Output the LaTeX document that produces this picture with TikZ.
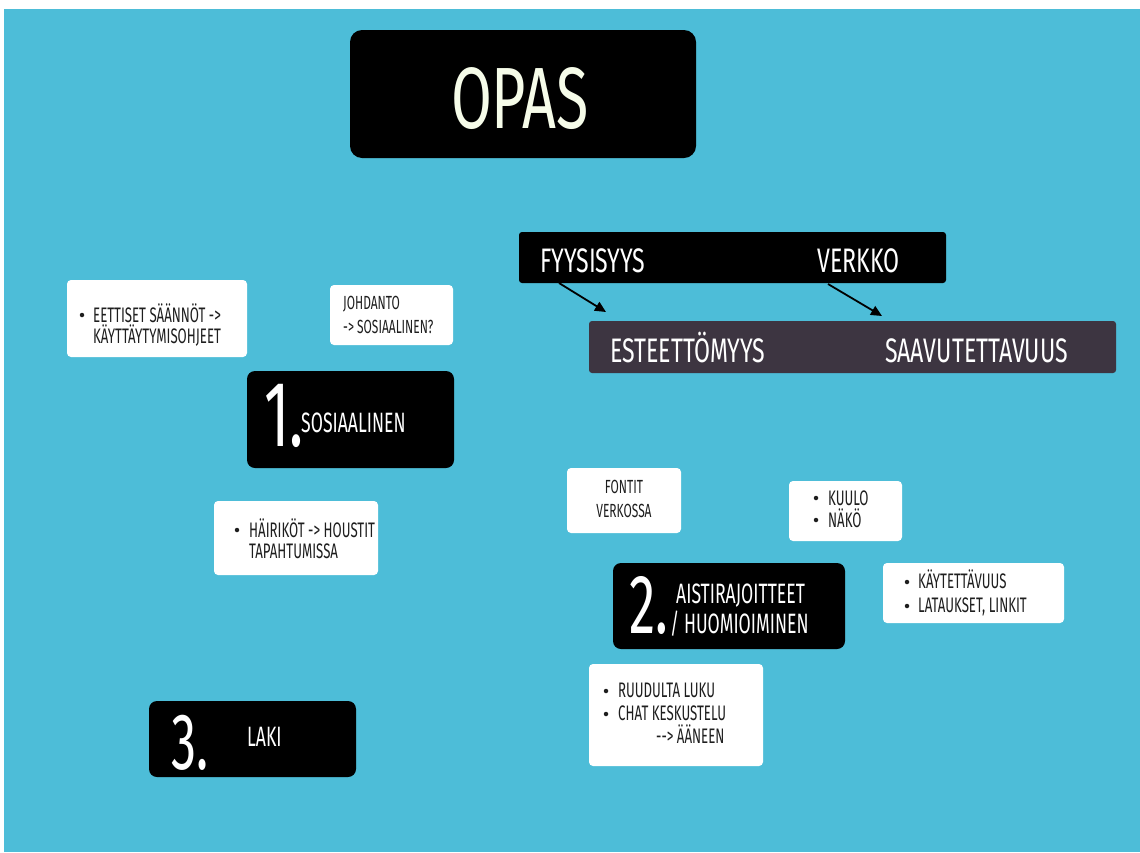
\documentclass[tikz,border=0pt]{standalone}
\usepackage{fontspec}
\setmainfont{Fira Sans}[FakeStretch=0.63]
\newfontfamily\widecond{Fira Sans}[FakeStretch=0.68]
\usetikzlibrary{arrows.meta}
\definecolor{bg}{HTML}{4DBDD8}
\definecolor{barc}{HTML}{3D3541}
\definecolor{cream}{HTML}{F6FCE9}
\definecolor{ink}{HTML}{1E1E1E}
\begin{document}
\begin{tikzpicture}[x=1pt,y=-1pt,
  box/.style={anchor=north west, inner sep=0pt, outer sep=0pt},
  wbox/.style={box, fill=white, rounded corners=4pt},
  kbox/.style={box, fill=black, rounded corners=8pt},
  txt/.style={anchor=base west, inner sep=0pt, text=ink},
  wtxt/.style={anchor=base west, inner sep=0pt, text=white},
  sm/.style={font=\fontsize{21}{21}\selectfont},
  xs/.style={font=\fontsize{19}{19}\selectfont},
  md/.style={font=\fontsize{28}{28}\selectfont},
  bt/.style={font=\widecond\fontsize{34}{34}\selectfont},
  dot/.style={circle, fill=ink, inner sep=0pt, minimum size=4.5pt},
  arr/.style={draw=black, line width=1.8pt, -{Triangle[length=11pt,width=10pt]}}
]
\useasboundingbox (0,0) rectangle (1140,852);
\fill[white] (0,0) rectangle (1140,852);
\fill[bg] (4,9) rectangle (1140,852);

% title
\node[kbox, rounded corners=12pt, minimum width=346pt, minimum height=128pt] (opas) at (350,30) {};
\node[anchor=base, inner sep=0pt, text=cream, font=\widecond\fontsize{87}{87}\selectfont] (opast) at (520,128) {OPAS};

% bars
\node[kbox, rounded corners=3pt, minimum width=427pt, minimum height=51pt] (topbar) at (519,232) {};
\node[box, fill=barc, rounded corners=3pt, minimum width=527pt, minimum height=52pt] (botbar) at (589,321) {};
\node[wtxt, bt] (fyy) at (540,272) {FYYSISYYS};
\node[wtxt, bt] (verk) at (817,272) {VERKKO};
\node[wtxt, bt] (este) at (610,362) {ESTEETTÖMYYS};
\node[wtxt, bt] (saav) at (885,362) {SAAVUTETTAVUUS};
\coordinate (a1s) at (559,283);
\coordinate (a1e) at (606,312);
\coordinate (a2s) at (828,284);
\coordinate (a2e) at (882,316);
\draw[arr] (a1s) -- (a1e);
\draw[arr] (a2s) -- (a2e);

% section 1
\node[wbox, minimum width=180pt, minimum height=77pt] (eet) at (67,280) {};
\node[dot] (eetd) at (82,315) {};
\node[txt, sm] (eet1) at (93,322) {EETTISET SÄÄNNÖT ->};
\node[txt, sm] (eet2) at (93,343) {KÄYTTÄYTYMISOHJEET};

\node[wbox, minimum width=123pt, minimum height=60pt] (joh) at (330,285) {};
\node[txt, xs] (joh1) at (343,309) {JOHDANTO};
\node[txt, xs] (joh2) at (343,333) {-> SOSIAALINEN?};

\node[kbox, minimum width=207pt, minimum height=97pt] (k1) at (247,371) {};
\node[wtxt, font=\fontsize{93}{93}\selectfont] (k1n) at (264,446) {1.};
\node[wtxt, md] (k1t) at (301,432) {SOSIAALINEN};

\node[wbox, minimum width=164pt, minimum height=74pt] (hai) at (214,501) {};
\node[dot] (haid) at (237,530) {};
\node[txt, sm] (hai1) at (249,537) {HÄIRIKÖT -> HOUSTIT};
\node[txt, sm] (hai2) at (249,558) {TAPAHTUMISSA};

% section 2
\node[wbox, minimum width=114pt, minimum height=65pt] (fon) at (567,468) {};
\node[txt, anchor=base, font=\fontsize{19}{19}\selectfont] (fon1) at (624,493) {FONTIT};
\node[txt, anchor=base, font=\fontsize{19}{19}\selectfont] (fon2) at (624,517) {VERKOSSA};

\node[wbox, minimum width=113pt, minimum height=60pt] (kuu) at (789,481) {};
\node[dot] (kuud1) at (816,498) {};
\node[dot] (kuud2) at (816,520) {};
\node[txt, sm] (kuu1) at (828,505) {KUULO};
\node[txt, sm] (kuu2) at (828,527) {NÄKÖ};

\node[kbox, minimum width=232pt, minimum height=86pt] (k2) at (613,563) {};
\node[wtxt, font=\fontsize{84}{84}\selectfont] (k2n) at (629,633) {2.};
\node[wtxt, md] (k2t1) at (676,603) {AISTIRAJOITTEET};
\node[wtxt, md] (k2t2) at (670,633) {/ HUOMIOIMINEN};

\node[wbox, minimum width=181pt, minimum height=60pt] (kay) at (883,563) {};
\node[dot] (kayd1) at (907,582) {};
\node[dot] (kayd2) at (907,606) {};
\node[txt, sm] (kay1) at (918,588) {KÄYTETTÄVUUS};
\node[txt, sm] (kay2) at (918,612) {LATAUKSET, LINKIT};

\node[wbox, minimum width=174pt, minimum height=102pt] (ruu) at (589,664) {};
\node[dot] (ruud1) at (606,691) {};
\node[dot] (ruud2) at (606,714) {};
\node[txt, sm] (ruu1) at (618,697) {RUUDULTA LUKU};
\node[txt, sm] (ruu2) at (618,720) {CHAT KESKUSTELU};
\node[txt, sm] (ruu3) at (656,743) {-{}-{}> ÄÄNEEN};

% section 3
\node[kbox, minimum width=207pt, minimum height=76pt] (k3) at (149,701) {};
\node[wtxt, font=\fontsize{80}{80}\selectfont] (k3n) at (171,769) {3.};
\node[wtxt, md] (k3t) at (247,746) {LAKI};
\end{tikzpicture}
\end{document}
